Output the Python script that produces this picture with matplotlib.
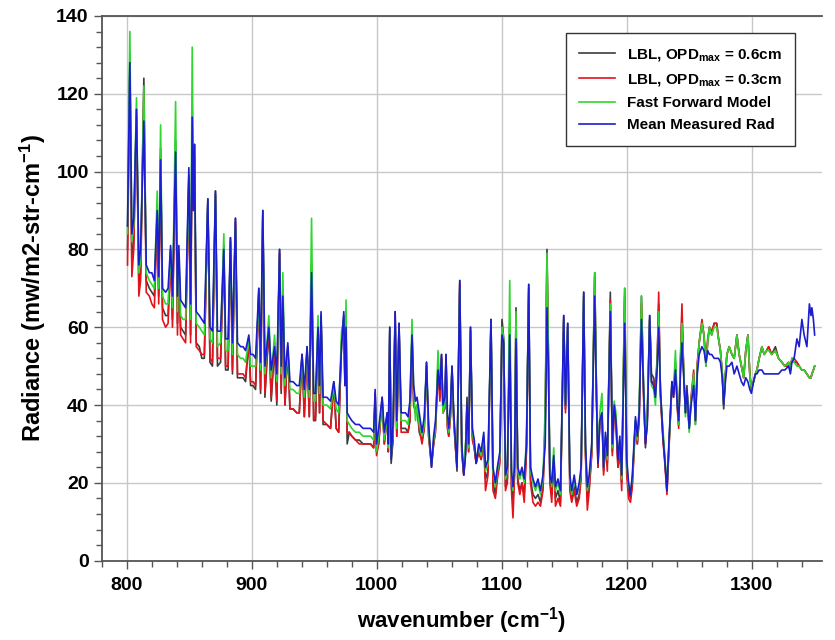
import numpy as np
import matplotlib.pyplot as plt
from matplotlib.ticker import MultipleLocator

plt.rcParams['font.family'] = ['Liberation Sans', 'DejaVu Sans']
plt.rcParams['font.weight'] = 'bold'
plt.rcParams['mathtext.fontset'] = 'custom'
plt.rcParams['mathtext.rm'] = 'Liberation Sans:bold'
plt.rcParams['mathtext.bf'] = 'Liberation Sans:bold'
plt.rcParams['mathtext.it'] = 'Liberation Sans:bold'

# wavenumber grid (cm-1)
wavenumber = [
    800.5, 802.4, 804, 805.5, 807.7, 809.6, 811, 813.6, 815.5, 818,
    820, 822, 824.3, 825.5, 827, 828.5, 831, 833, 835, 836.5,
    839, 840.5, 841.6, 843, 845, 847, 849.6, 851, 852.3, 853.2,
    854.1, 855.5, 858, 860, 862, 864.8, 866.5, 868.5, 870.9, 872.5,
    875, 877.6, 879, 881, 882.9, 884.5, 886.9, 888.5, 891, 893,
    895, 897.6, 899, 901, 903, 905.6, 907, 908.8, 910.5, 913.6,
    915.5, 918.2, 920, 922.2, 923.5, 924.8, 926.5, 928.8, 930.5, 933,
    936, 938, 940.2, 942, 944.2, 946, 947.8, 949.5, 951, 953,
    954.2, 955.4, 957, 960, 963, 965.6, 967.5, 969.5, 971.8, 973.6,
    974.5, 975.4, 976.3, 978, 980, 983, 986, 989, 992, 995,
    997.5, 998.7, 999.8, 1001.5, 1004.3, 1006, 1008.3, 1009.2, 1010.4, 1011.5,
    1013, 1014.7, 1016, 1017.8, 1019.5, 1021, 1023, 1025, 1026.5, 1028.2,
    1029.5, 1031, 1032.2, 1034, 1036.2, 1038, 1039.8, 1041.5, 1043.8, 1045.5,
    1047, 1049, 1050.5, 1051.8, 1053, 1054.5, 1055.4, 1056.5, 1057.6, 1059,
    1060.2, 1061.6, 1063, 1064.2, 1066.4, 1068, 1069.6, 1071, 1072.2, 1073.5,
    1075, 1076.5, 1078, 1079.5, 1081.6, 1083.5, 1085.6, 1087, 1089, 1091.4,
    1093, 1094.9, 1096.5, 1098.5, 1100.2, 1101.6, 1103, 1104.5, 1106.4, 1107.8,
    1109, 1110.2, 1111.4, 1112.8, 1114.5, 1116.2, 1118, 1119.8, 1121.6, 1123,
    1125, 1127, 1129, 1131, 1133, 1134.8, 1136.2, 1137.3, 1138.5, 1140,
    1141.6, 1143, 1145, 1147, 1149.6, 1151, 1152.8, 1154.5, 1156, 1158,
    1160, 1162, 1163.5, 1165.6, 1167, 1168.5, 1170, 1172, 1174.4, 1175.8,
    1177, 1178.5, 1180.2, 1181.5, 1183, 1184.5, 1186.9, 1188.5, 1190, 1191.4,
    1193, 1194.5, 1196, 1198.4, 1200, 1201.5, 1203, 1204.5, 1207, 1208.5,
    1210, 1211.8, 1213.5, 1215, 1216.5, 1218.4, 1219.8, 1221.6, 1223, 1224.5,
    1225.6, 1227, 1229, 1230.5, 1232.2, 1234, 1236.2, 1237.5, 1239, 1240.5,
    1241.6, 1243, 1244.2, 1245.5, 1247, 1248.2, 1250, 1251.5, 1253.6, 1255,
    1256.5, 1258, 1260.2, 1261.8, 1263.4, 1264.8, 1266.2, 1268, 1270, 1272,
    1273.5, 1275, 1276.5, 1277.6, 1279, 1280.2, 1282, 1284.2, 1286, 1288.2,
    1290, 1291.8, 1293.6, 1295.3, 1297, 1298.5, 1299.8, 1301.5, 1303, 1304.2,
    1306, 1308.2, 1310, 1312, 1313.6, 1316, 1319, 1321.5, 1324.2, 1326.5,
    1329.6, 1331, 1332.2, 1334, 1336.2, 1338, 1340.2, 1342, 1344.2, 1346.2,
    1347.5, 1348.2, 1349.4, 1350.4,
]

# Mean Measured Rad (blue)
measured = [
    86, 128, 84, 88, 116, 76, 80, 113, 76, 74,
    74, 72, 90, 73, 103, 70, 69, 70, 81, 68,
    105, 68, 81, 67, 66, 65, 101, 66, 114, 90,
    107, 64, 63, 62, 61, 93, 60, 59, 95, 59,
    59, 80, 57, 57, 83, 56, 88, 56, 55, 55,
    54, 58, 53, 53, 52, 70, 51, 90, 50, 60,
    49, 55, 48, 80, 50, 68, 47, 56, 46, 46,
    45, 45, 53, 44, 55, 44, 74, 43, 43, 60,
    45, 64, 42, 42, 41, 46, 41, 40, 55, 64,
    45, 60, 38, 37, 36, 35, 35, 34, 34, 34,
    33, 44, 30, 34, 42, 33, 38, 30, 60, 26,
    35, 64, 36, 61, 38, 38, 38, 37, 41, 58,
    45, 41, 42, 38, 33, 37, 51, 35, 24, 32,
    36, 49, 44, 53, 40, 42, 53, 38, 34, 40,
    50, 38, 30, 24, 72, 30, 22, 27, 40, 30,
    60, 34, 31, 25, 30, 28, 33, 24, 26, 62,
    24, 20, 24, 28, 58, 56, 22, 24, 58, 23,
    19, 24, 57, 24, 22, 24, 21, 30, 71, 24,
    21, 19, 21, 18, 22, 30, 65, 50, 22, 20,
    27, 19, 21, 18, 63, 40, 61, 22, 18, 22,
    17, 20, 24, 69, 30, 19, 22, 30, 68, 42,
    25, 36, 38, 24, 33, 27, 64, 30, 40, 36,
    26, 32, 22, 61, 26, 20, 17, 22, 37, 32,
    38, 62, 44, 30, 35, 63, 46, 45, 42, 50,
    60, 44, 32, 26, 18, 32, 46, 42, 49, 40,
    36, 48, 56, 48, 38, 44, 34, 40, 45, 36,
    48, 53, 55, 54, 51, 54, 53, 53, 52, 52,
    52, 51, 47, 40, 46, 50, 50, 51, 48, 50,
    48, 46, 45, 47, 46, 44, 43, 46, 48, 48,
    49, 49, 48, 48, 48, 48, 48, 48, 49, 49,
    50, 48, 51, 52, 57, 55, 62, 58, 55, 66,
    63, 65, 62, 58,
]

# Fast Forward Model (green)
ffm = [
    84, 136, 82, 86, 119, 74, 77, 122, 74, 72,
    71, 70, 95, 70, 112, 68, 66, 66, 80, 65,
    118, 64, 79, 63, 62, 62, 98, 62, 132, 95,
    105, 61, 60, 59, 58, 92, 57, 56, 94, 55,
    56, 84, 54, 54, 82, 53, 86, 53, 52, 52,
    51, 57, 50, 50, 50, 68, 49, 89, 48, 63,
    47, 58, 46, 78, 48, 74, 45, 54, 44, 44,
    43, 43, 52, 42, 54, 42, 88, 41, 41, 63,
    43, 62, 40, 40, 39, 45, 39, 38, 59, 62,
    50, 67, 36, 35, 34, 33, 33, 32, 32, 32,
    31, 42, 28, 32, 41, 31, 37, 29, 59, 27,
    33, 62, 34, 60, 36, 36, 36, 35, 40, 62,
    44, 36, 40, 35, 32, 35, 50, 33, 25, 31,
    34, 54, 45, 51, 38, 40, 51, 36, 33, 39,
    49, 37, 30, 25, 70, 29, 23, 30, 36, 29,
    59, 33, 30, 26, 29, 27, 32, 23, 25, 61,
    23, 19, 23, 27, 60, 57, 21, 23, 72, 22,
    18, 25, 64, 23, 21, 23, 20, 32, 69, 23,
    20, 18, 20, 17, 21, 40, 79, 55, 24, 19,
    29, 18, 20, 17, 62, 40, 60, 21, 17, 21,
    17, 19, 23, 68, 29, 18, 21, 29, 74, 44,
    26, 38, 43, 24, 32, 26, 66, 29, 41, 38,
    27, 31, 21, 70, 25, 19, 18, 21, 36, 31,
    40, 68, 45, 32, 38, 62, 45, 44, 40, 52,
    64, 43, 34, 27, 19, 31, 45, 44, 54, 40,
    35, 52, 61, 50, 37, 44, 33, 41, 48, 35,
    50, 56, 61, 58, 50, 56, 60, 58, 60, 60,
    57, 54, 48, 40, 48, 53, 55, 53, 52, 58,
    53, 50, 47, 54, 58, 48, 44, 46, 48, 49,
    52, 55, 53, 54, 54, 53, 54, 52, 51, 50,
    51, 49, 52, 51, 50, 50, 49, 49, 48, 47,
    47, 48, 49, 50,
]

# LBL, OPDmax = 0.3cm (red)
lbl_03 = [
    76, 126, 73, 80, 114, 68, 72, 120, 69, 68,
    66, 65, 88, 66, 104, 62, 60, 61, 78, 60,
    106, 58, 76, 58, 57, 56, 97, 56, 114, 90,
    104, 55, 54, 53, 53, 92, 52, 51, 94, 52,
    52, 80, 50, 50, 82, 49, 87, 48, 48, 48,
    47, 56, 46, 46, 45, 69, 44, 89, 43, 61,
    42, 56, 41, 79, 44, 70, 40, 55, 39, 39,
    38, 38, 53, 37, 54, 37, 75, 36, 37, 60,
    38, 62, 36, 35, 34, 45, 34, 33, 56, 62,
    45, 60, 33, 33, 32, 31, 30, 30, 30, 30,
    29, 43, 27, 30, 41, 30, 37, 28, 59, 27,
    31, 63, 32, 60, 33, 33, 33, 33, 36, 58,
    40, 38, 39, 34, 30, 34, 50, 32, 25, 30,
    33, 50, 41, 52, 38, 39, 52, 34, 32, 37,
    49, 36, 29, 24, 71, 28, 22, 28, 40, 28,
    59, 31, 29, 25, 28, 26, 30, 18, 22, 61,
    18, 16, 21, 25, 60, 56, 18, 20, 60, 18,
    11, 22, 63, 20, 17, 20, 15, 28, 70, 20,
    15, 14, 15, 14, 18, 35, 78, 52, 20, 15,
    26, 14, 16, 14, 62, 38, 60, 18, 15, 18,
    14, 16, 21, 68, 27, 13, 18, 27, 73, 42,
    24, 36, 38, 22, 30, 23, 67, 27, 38, 35,
    24, 28, 18, 68, 22, 16, 15, 19, 35, 30,
    36, 66, 42, 30, 36, 62, 46, 46, 43, 52,
    69, 42, 31, 25, 17, 30, 45, 42, 50, 39,
    34, 51, 66, 49, 38, 44, 34, 42, 49, 36,
    51, 56, 62, 58, 51, 57, 60, 59, 61, 61,
    57, 54, 48, 40, 48, 53, 55, 53, 52, 58,
    53, 50, 47, 54, 58, 48, 44, 46, 48, 49,
    52, 55, 53, 54, 55, 53, 54, 52, 51, 50,
    50, 49, 52, 52, 51, 50, 49, 49, 48, 47,
    47, 48, 49, 50,
]

# LBL, OPDmax = 0.6cm (black)
lbl_06 = [
    80, 130, 76, 82, 116, 71, 74, 124, 72, 70,
    69, 68, 90, 68, 106, 65, 63, 63, 80, 62,
    108, 61, 78, 60, 59, 58, 99, 58, 116, 92,
    107, 56, 55, 52, 52, 93, 51, 50, 95, 50,
    51, 81, 49, 49, 83, 48, 88, 47, 47, 47,
    46, 57, 45, 45, 44, 70, 43, 90, 42, 60,
    41, 55, 40, 80, 43, 69, 40, 55, 39, 39,
    38, 38, 53, 37, 55, 37, 76, 36, 36, 60,
    38, 63, 35, 35, 34, 46, 34, 33, 56, 63,
    46, 61, 30, 33, 32, 31, 31, 30, 30, 30,
    29, 43, 28, 30, 42, 30, 38, 28, 60, 25,
    31, 64, 32, 61, 34, 34, 34, 33, 36, 58,
    41, 38, 40, 33, 31, 34, 51, 32, 24, 30,
    34, 50, 42, 53, 38, 40, 53, 35, 32, 38,
    50, 36, 29, 23, 72, 28, 22, 28, 42, 28,
    60, 32, 29, 25, 28, 26, 31, 21, 23, 62,
    20, 17, 22, 26, 62, 57, 19, 21, 61, 19,
    15, 22, 65, 21, 18, 20, 17, 29, 71, 21,
    17, 16, 17, 15, 19, 36, 80, 54, 21, 17,
    26, 16, 18, 15, 63, 39, 61, 19, 16, 19,
    15, 17, 22, 69, 28, 16, 19, 28, 74, 43,
    24, 36, 38, 23, 31, 25, 69, 28, 39, 36,
    24, 29, 20, 70, 24, 18, 16, 20, 36, 30,
    37, 68, 44, 29, 37, 63, 48, 47, 44, 53,
    66, 43, 32, 26, 18, 31, 46, 43, 51, 40,
    35, 50, 64, 50, 38, 45, 34, 41, 48, 35,
    50, 56, 61, 58, 50, 56, 60, 58, 61, 61,
    57, 54, 48, 39, 48, 53, 55, 53, 52, 58,
    53, 50, 47, 54, 58, 48, 44, 46, 48, 49,
    52, 55, 53, 54, 55, 53, 55, 52, 51, 50,
    51, 49, 52, 51, 51, 50, 49, 49, 48, 47,
    47, 48, 49, 50,
]

n = len(wavenumber)
assert len(measured) == n and len(ffm) == n and len(lbl_03) == n and len(lbl_06) == n

fig = plt.figure(figsize=(8.35, 6.4), dpi=100)
ax = fig.add_axes([0.122, 0.124, 0.862, 0.851])

ax.plot(wavenumber, lbl_06, color='#3c3c3c', lw=1.2, label=r'LBL, OPD$_{max}$ = 0.6cm')
ax.plot(wavenumber, lbl_03, color='#e3121b', lw=1.2, label=r'LBL, OPD$_{max}$ = 0.3cm')
ax.plot(wavenumber, ffm, color='#2fd62f', lw=1.2, label='Fast Forward Model')
ax.plot(wavenumber, measured, color='#1c1cd0', lw=1.2, label='Mean Measured Rad')

ax.set_xlim(780, 1356)
ax.set_ylim(0, 140)
ax.xaxis.set_major_locator(MultipleLocator(100))
ax.xaxis.set_minor_locator(MultipleLocator(20))
ax.yaxis.set_major_locator(MultipleLocator(20))
ax.yaxis.set_minor_locator(MultipleLocator(4))
ax.grid(True, which='major', color='#c8c8c8', lw=1.0)
ax.set_axisbelow(True)

for s in ['left', 'bottom', 'top']:
    ax.spines[s].set_color('#555555')
    ax.spines[s].set_linewidth(1.3)
ax.spines['right'].set_visible(False)

ax.tick_params(which='major', direction='out', length=6, width=1, color='#555555', labelsize=14)
ax.tick_params(which='minor', direction='out', length=4, width=1, color='#555555')
ax.tick_params(axis='x', pad=6)

ax.set_xlabel('wavenumber (cm$^{-1}$)', fontsize=16, fontweight='bold', labelpad=8)
ax.set_ylabel('Radiance (mw/m2-str-cm$^{-1}$)', fontsize=17, fontweight='bold', labelpad=6)

leg = ax.legend(loc='upper right', bbox_to_anchor=(0.974, 0.982), fontsize=11,
                fancybox=False, framealpha=1, edgecolor='#333333',
                handlelength=2.3, borderpad=0.9, labelspacing=0.55)
leg.get_frame().set_linewidth(1.0)

fig.savefig('out.png', dpi=100)
plt.close()
